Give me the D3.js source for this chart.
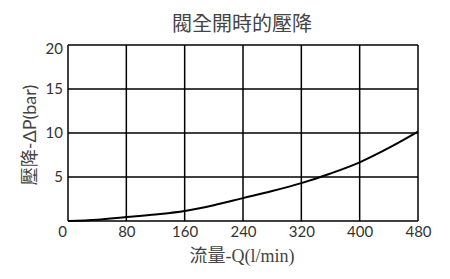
<!DOCTYPE html>
<html lang="zh-Hant">
<head>
<meta charset="UTF-8">
<title>閥全開時的壓降</title>
<script src="https://cdnjs.cloudflare.com/ajax/libs/d3/7.8.5/d3.min.js"></script>
<style>
  body { margin: 0; background: #fff; }
</style>
</head>
<body>
<script>
  // data
  const flow = [0, 40, 80, 120, 160, 200, 240, 280, 320, 360, 400, 440, 480];
  const dp   = [0, 0.15, 0.45, 0.75, 1.14, 1.8, 2.6, 3.4, 4.3, 5.4, 6.67, 8.3, 10.15];
  const xTicks = [0, 80, 160, 240, 320, 400, 480];
  const yTicks = [0, 5, 10, 15, 20];
  const yLabelTicks = [5, 10, 15, 20]; // the shared "0" sits under the corner

  const W = 450, H = 279;
  const m = { left: 68, right: 32, top: 45, bottom: 58 };

  const svg = d3.select("body").append("svg")
    .attr("width", W).attr("height", H);

  const x = d3.scaleLinear().domain([0, 480]).range([m.left, W - m.right]);
  const y = d3.scaleLinear().domain([0, 20]).range([H - m.bottom, m.top]);

  const numFont = "'Lato', 'DejaVu Sans', sans-serif";

  // grid
  svg.append("g").selectAll("line").data(xTicks).join("line")
    .attr("x1", d => x(d)).attr("x2", d => x(d))
    .attr("y1", y(0)).attr("y2", y(20))
    .attr("stroke", "#000").attr("stroke-width", 1.5);
  svg.append("g").selectAll("line").data(yTicks).join("line")
    .attr("x1", x(0)).attr("x2", x(480))
    .attr("y1", d => y(d)).attr("y2", d => y(d))
    .attr("stroke", "#000").attr("stroke-width", 1.5);

  // tick labels via d3 axes (no domain/ticks drawn)
  const xAxis = svg.append("g")
    .attr("transform", `translate(0,${y(0)})`)
    .call(d3.axisBottom(x).tickValues(xTicks).tickSize(0).tickPadding(5));
  const yAxis = svg.append("g")
    .attr("transform", `translate(${x(0)},0)`)
    .call(d3.axisLeft(y).tickValues(yLabelTicks).tickSize(0).tickPadding(5));
  [xAxis, yAxis].forEach(a => {
    a.select(".domain").remove();
    a.selectAll("text")
      .attr("font-family", numFont)
      .attr("font-size", 15)
      .attr("fill", "#333");
  });
  xAxis.selectAll(".tick").filter(d => d === 0).select("text").attr("dx", -6);
  yAxis.selectAll(".tick").filter(d => d === 20).select("text").attr("dy", "0.55em");

  // curve
  const pts = flow.map((q, i) => [q, dp[i]]);
  svg.append("path")
    .datum(pts)
    .attr("fill", "none")
    .attr("stroke", "#000")
    .attr("stroke-width", 2)
    .attr("d", d3.line().x(d => x(d[0])).y(d => y(d[1])).curve(d3.curveMonotoneX));

  // title
  svg.append("text")
    .attr("x", 242).attr("y", 31)
    .attr("text-anchor", "middle")
    .attr("font-family", "'Noto Sans CJK TC', sans-serif")
    .attr("font-size", 20)
    .attr("fill", "#444")
    .text("閥全開時的壓降");

  // x label
  svg.append("text")
    .attr("x", 242).attr("y", 262)
    .attr("text-anchor", "middle")
    .attr("font-family", "'Liberation Serif', 'Noto Sans CJK TC', serif")
    .attr("font-size", 18)
    .attr("fill", "#444")
    .text("流量-Q(l/min)");

  // y label
  svg.append("text")
    .attr("transform", "translate(36,135) rotate(-90)")
    .attr("text-anchor", "middle")
    .attr("font-family", numFont + ", 'Noto Sans CJK TC'")
    .attr("font-size", 18)
    .attr("fill", "#444")
    .text("壓降-ΔP(bar)");
</script>
</body>
</html>
